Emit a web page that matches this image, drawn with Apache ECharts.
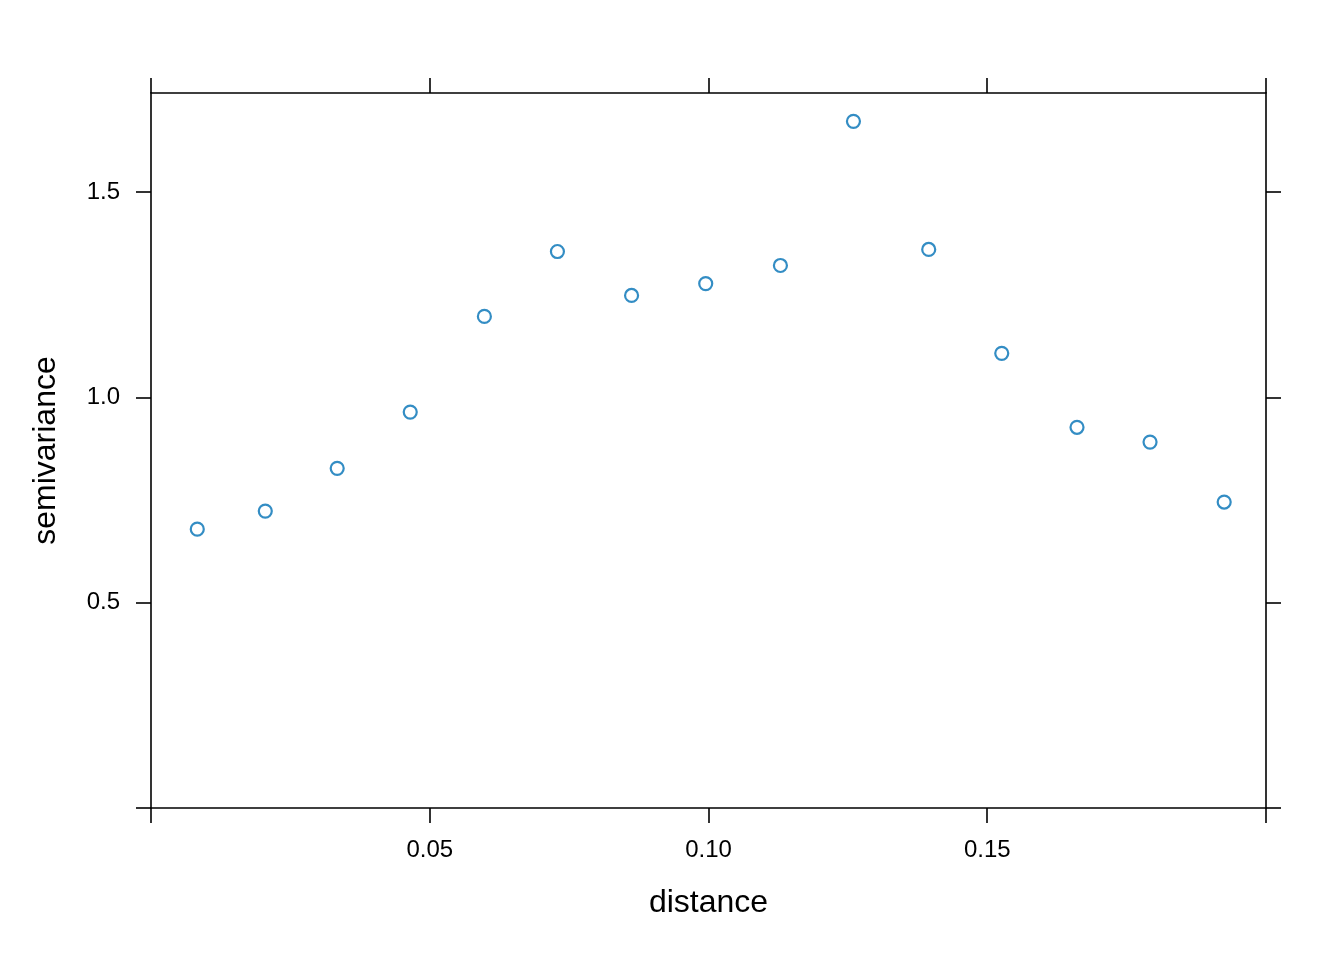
<!DOCTYPE html>
<html>
<head>
<meta charset="utf-8">
<script src="https://cdn.jsdelivr.net/npm/echarts@6/dist/echarts.min.js"></script>
<style>
html,body{margin:0;padding:0;background:#fff;}
#chart{width:1344px;height:960px;}
</style>
</head>
<body>
<div id="chart"></div>
<script>
// Data
const distance = [0.0083, 0.0205, 0.0334, 0.0465, 0.0598, 0.0729, 0.0862, 0.0995, 0.1129, 0.1260, 0.1395, 0.1526, 0.1661, 0.1792, 0.1925];
const semivariance = [0.679, 0.723, 0.827, 0.964, 1.197, 1.355, 1.248, 1.277, 1.321, 1.672, 1.360, 1.107, 0.927, 0.891, 0.745];
const xTicks = [0, 0.05, 0.10, 0.15, 0.20];
const xTickLabels = [0.05, 0.10, 0.15];
const yTicks = [0, 0.5, 1.0, 1.5];
const yTickLabels = [0.5, 1.0, 1.5];

const points = distance.map((d, i) => [d, semivariance[i]]);
const FONT = 'Liberation Sans, Arial, Helvetica, sans-serif';
const lineStyle = {color: '#000', width: 1.6};

const chart = echarts.init(document.getElementById('chart'), null, {renderer: 'canvas'});
chart.setOption({
  backgroundColor: '#fff',
  animation: false,
  grid: {left: 151, right: 78, top: 93, bottom: 152, containLabel: false},
  xAxis: [{
    type: 'value', position: 'bottom', min: 0, max: 0.2, interval: 0.05,
    name: 'distance', nameLocation: 'middle', nameGap: 79,
    nameTextStyle: {fontFamily: FONT, fontSize: 32, color: '#000'},
    axisLine: {show: true, onZero: false, lineStyle: lineStyle},
    axisTick: {show: true, length: 15, inside: false, lineStyle: lineStyle, customValues: xTicks},
    axisLabel: {show: true, margin: 30, fontFamily: FONT, fontSize: 24, color: '#000',
      customValues: xTickLabels, formatter: v => v.toFixed(2)},
    splitLine: {show: false}
  }, {
    type: 'value', position: 'top', min: 0, max: 0.2, interval: 0.05,
    axisLine: {show: true, onZero: false, lineStyle: lineStyle},
    axisTick: {show: true, length: 15, inside: false, lineStyle: lineStyle, customValues: xTicks},
    axisLabel: {show: false},
    splitLine: {show: false}
  }],
  yAxis: [{
    type: 'value', position: 'left', min: 0, max: 1.741, interval: 0.5,
    name: 'semivariance', nameLocation: 'middle', nameGap: 89,
    nameTextStyle: {fontFamily: FONT, fontSize: 32, color: '#000'},
    axisLine: {show: true, onZero: false, lineStyle: lineStyle},
    axisTick: {show: true, length: 15, inside: false, lineStyle: lineStyle, customValues: yTicks},
    axisLabel: {show: true, margin: 31, fontFamily: FONT, fontSize: 24, color: '#000',
      padding: [4, 0, 0, 0],
      customValues: yTickLabels, formatter: v => v.toFixed(1)},
    splitLine: {show: false}
  }, {
    type: 'value', position: 'right', min: 0, max: 1.741, interval: 0.5,
    axisLine: {show: true, onZero: false, lineStyle: lineStyle},
    axisTick: {show: true, length: 15, inside: false, lineStyle: lineStyle, customValues: yTicks},
    axisLabel: {show: false},
    splitLine: {show: false}
  }],
  series: [{
    type: 'scatter',
    xAxisIndex: 0, yAxisIndex: 0,
    data: points,
    symbol: 'circle',
    symbolSize: 13,
    itemStyle: {color: 'rgba(255,255,255,0)', borderColor: '#0070B5', borderWidth: 2.2},
    emphasis: {disabled: true}
  }]
});
</script>
</body>
</html>
